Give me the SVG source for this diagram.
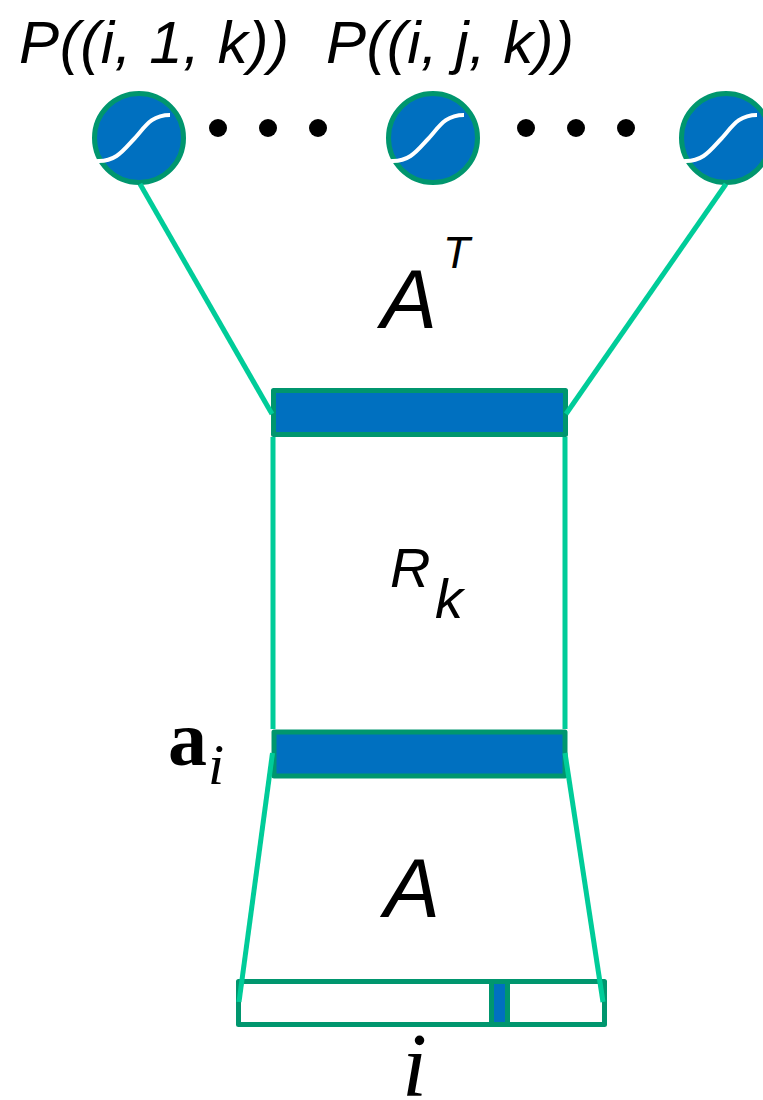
<svg xmlns="http://www.w3.org/2000/svg" width="763" height="1100" viewBox="0 0 763 1100">
<style>
.wire{stroke:#00CC99;stroke-width:5;fill:none}
.box{stroke:#00966E;stroke-width:5;fill:#0070C0;stroke-linejoin:round}
.empty{fill:#fff}
.curve{stroke:#fff;stroke-width:4;fill:none}
.dot{fill:#000}
.sans{font-family:"Liberation Sans",Arial,sans-serif;font-style:italic;fill:#000}
.serif{font-family:"Liberation Serif","Times New Roman",serif;fill:#000}
</style>
<defs>
<g id="neuron">
<circle r="44.5" class="box"/>
<path class="curve" d="M-42 23C-22 24-14 10-4 0C6-11 12-23 31-23"/>
</g>
</defs>
<rect width="763" height="1100" fill="#fff"/>
<g id="neuron-1"><use href="#neuron" x="139" y="138"/></g>
<g id="neuron-2"><use href="#neuron" x="433" y="138"/></g>
<g id="neuron-3"><use href="#neuron" x="726" y="138"/></g>
<g id="dots-left" class="dot"><circle cx="218" cy="128" r="9"/><circle cx="268" cy="128" r="9"/><circle cx="318" cy="128" r="9"/></g>
<g id="dots-right" class="dot"><circle cx="526" cy="128" r="9"/><circle cx="576" cy="128" r="9"/><circle cx="626" cy="128" r="9"/></g>
<g id="layer-top"><rect class="box" x="273.500" y="390.500" width="292" height="44"/></g>
<g id="layer-bottom"><rect class="box" x="274" y="732" width="291" height="44"/></g>
<g id="input">
<rect class="box empty" x="238.500" y="981.500" width="366" height="43"/>
<rect class="box" x="491.500" y="981.500" width="16" height="43"/>
</g>
<g id="connectors">
<line class="wire" x1="140" y1="184" x2="272" y2="414"/>
<line class="wire" x1="726" y1="184" x2="566" y2="414"/>
<line class="wire" x1="273" y1="437" x2="273" y2="729"/>
<line class="wire" x1="565" y1="437" x2="565" y2="729"/>
<line class="wire" x1="272.500" y1="753" x2="239" y2="1002"/>
<line class="wire" x1="565" y1="753" x2="603" y2="1002"/>
</g>
<g id="labels">
<text class="sans" x="19" y="63" font-size="60" textLength="270" lengthAdjust="spacing">P((i, 1, k))</text>
<text class="sans" x="326" y="63" font-size="60" textLength="248" lengthAdjust="spacing">P((i, j, k))</text>
<text class="sans" x="381" y="328" font-size="84">A</text>
<text class="sans" x="443" y="268" font-size="44">T</text>
<text class="sans" x="390" y="587" font-size="56">R</text>
<text class="sans" x="435" y="618" font-size="56">k</text>
<text class="serif" x="168" y="765" font-size="78" font-weight="bold">a</text>
<text class="serif" x="208" y="784" font-size="58" font-style="italic">i</text>
<text class="sans" x="384" y="917" font-size="84">A</text>
<text class="serif" x="402" y="1096" font-size="90" font-style="italic">i</text>
</g>
</svg>
